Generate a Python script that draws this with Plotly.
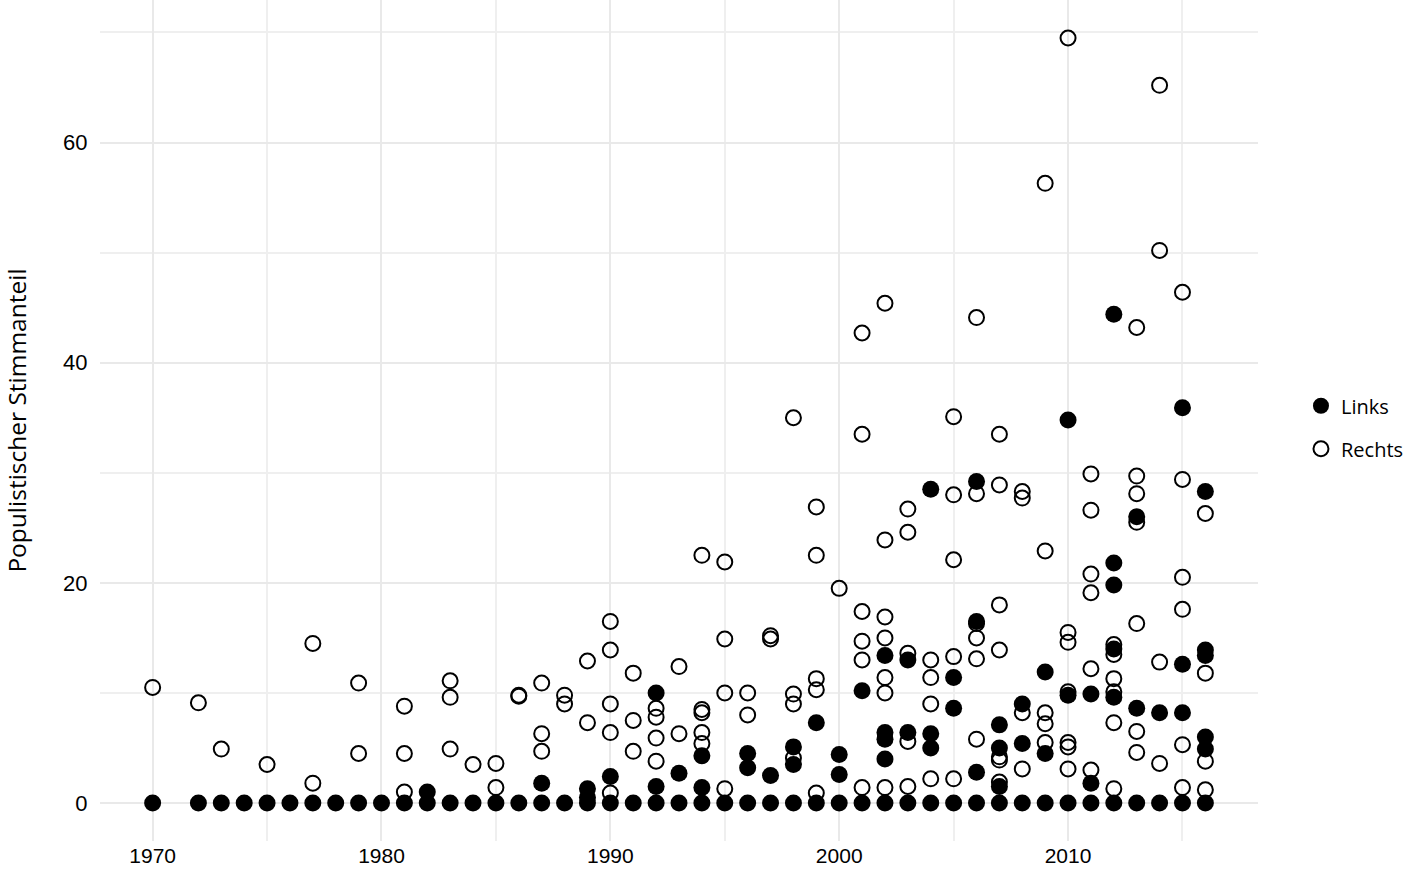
import plotly.graph_objects as go

# ---- Data ----
links_year = [
    1970, 1972, 1973, 1974, 1975, 1976, 1977, 1978, 1979, 1980,
    1981, 1982, 1983, 1984, 1985, 1986, 1987, 1988, 1989, 1990,
    1991, 1992, 1993, 1994, 1995, 1996, 1997, 1998, 1999, 2000,
    2001, 2002, 2003, 2004, 2005, 2006, 2007, 2008, 2009, 2010,
    2011, 2012, 2013, 2014, 2015, 2016,
    1982, 1987, 1989, 1989, 1990, 1992, 1992, 1993, 1994, 1994,
    1996, 1996, 1997, 1998, 1998, 1999, 2000, 2000, 2001,
    2002, 2002, 2002, 2002, 2003, 2003, 2004, 2004, 2004,
    2005, 2005, 2006, 2006, 2006, 2007, 2007, 2007, 2008, 2008,
    2009, 2009, 2010, 2010, 2011, 2011,
    2012, 2012, 2012, 2012, 2012, 2013, 2013, 2014,
    2015, 2015, 2015, 2016, 2016, 2016, 2016, 2016,
]
links_value = [
    0, 0, 0, 0, 0, 0, 0, 0, 0, 0,
    0, 0, 0, 0, 0, 0, 0, 0, 0, 0,
    0, 0, 0, 0, 0, 0, 0, 0, 0, 0,
    0, 0, 0, 0, 0, 0, 0, 0, 0, 0,
    0, 0, 0, 0, 0, 0,
    1.0, 1.8, 1.3, 0.5, 2.4, 10.0, 1.5, 2.7, 4.3, 1.4,
    4.5, 3.2, 2.5, 5.1, 3.5, 7.3, 4.4, 2.6, 10.2,
    13.4, 6.4, 5.8, 4.0, 13.0, 6.4, 28.5, 6.3, 5.0,
    11.4, 8.6, 29.2, 16.5, 2.8, 7.1, 5.0, 1.5, 9.0, 5.4,
    11.9, 4.5, 34.8, 9.8, 9.9, 1.8,
    44.4, 21.8, 19.8, 14.0, 9.6, 26.0, 8.6, 8.2,
    35.9, 12.6, 8.2, 28.3, 13.9, 13.4, 6.0, 4.9,
]

rechts_year = [
    1970, 1972, 1973, 1975, 1977, 1977, 1979, 1979, 1981, 1981, 1981,
    1983, 1983, 1983, 1984, 1985, 1985, 1986, 1986, 1987, 1987, 1987,
    1988, 1988, 1989, 1989, 1990, 1990, 1990, 1990, 1990,
    1991, 1991, 1991, 1992, 1992, 1992, 1992, 1993, 1993,
    1994, 1994, 1994, 1994, 1994, 1995, 1995, 1995, 1995,
    1996, 1996, 1997, 1997, 1998, 1998, 1998, 1998,
    1999, 1999, 1999, 1999, 1999, 2000,
    2001, 2001, 2001, 2001, 2001, 2001,
    2002, 2002, 2002, 2002, 2002, 2002, 2002,
    2003, 2003, 2003, 2003, 2003, 2004, 2004, 2004, 2004,
    2005, 2005, 2005, 2005, 2005, 2006, 2006, 2006, 2006, 2006, 2006,
    2007, 2007, 2007, 2007, 2007, 2007, 2007, 2008, 2008, 2008, 2008,
    2009, 2009, 2009, 2009, 2009, 2010, 2010, 2010, 2010, 2010, 2010, 2010,
    2011, 2011, 2011, 2011, 2011, 2011, 2012, 2012, 2012, 2012, 2012, 2012,
    2013, 2013, 2013, 2013, 2013, 2013, 2013, 2014, 2014, 2014, 2014,
    2015, 2015, 2015, 2015, 2015, 2015, 2016, 2016, 2016, 2016,
]
rechts_value = [
    10.5, 9.1, 4.9, 3.5, 14.5, 1.8, 10.9, 4.5, 8.8, 4.5, 1.0,
    11.1, 9.6, 4.9, 3.5, 3.6, 1.4, 9.7, 9.8, 10.9, 6.3, 4.7,
    9.8, 9.0, 12.9, 7.3, 16.5, 13.9, 9.0, 6.4, 0.9,
    11.8, 7.5, 4.7, 8.6, 7.8, 5.9, 3.8, 12.4, 6.3,
    22.5, 8.5, 8.2, 6.4, 5.4, 21.9, 14.9, 10.0, 1.3,
    10.0, 8.0, 15.2, 14.9, 35.0, 9.9, 9.0, 4.1,
    26.9, 22.5, 11.3, 10.3, 0.9, 19.5,
    42.7, 33.5, 17.4, 14.7, 13.0, 1.4,
    45.4, 23.9, 16.9, 15.0, 11.4, 10.0, 1.4,
    26.7, 24.6, 13.6, 5.6, 1.5, 13.0, 11.4, 9.0, 2.2,
    35.1, 28.0, 22.1, 13.3, 2.2, 44.1, 28.1, 16.3, 15.0, 13.1, 5.8,
    33.5, 28.9, 18.0, 13.9, 4.2, 3.9, 1.9, 28.3, 27.7, 8.2, 3.1,
    56.3, 22.9, 8.2, 7.2, 5.5, 69.5, 15.5, 14.6, 10.1, 5.5, 5.1, 3.1,
    29.9, 26.6, 20.8, 19.1, 12.2, 3.0, 14.4, 13.5, 11.3, 10.1, 7.3, 1.3,
    43.2, 29.7, 28.1, 25.5, 16.3, 6.5, 4.6, 65.2, 50.2, 12.8, 3.6,
    46.4, 29.4, 20.5, 17.6, 5.3, 1.4, 26.3, 11.8, 3.8, 1.2,
]

x_ticks = [1970, 1980, 1990, 2000, 2010]
x_minor = [1975, 1985, 1995, 2005, 2015]
y_ticks = [0, 20, 40, 60]
y_minor = [10, 30, 50, 70]
y_title = "Populistischer Stimmanteil"

fig = go.Figure()
fig.add_trace(go.Scatter(
    x=rechts_year, y=rechts_value, mode="markers", name="Rechts",
    legendrank=2, legendgroup="r",
    marker=dict(symbol="circle-open", size=15, color="black",
                line=dict(width=2, color="black")),
))
fig.add_trace(go.Scatter(
    x=links_year, y=links_value, mode="markers", name="Links",
    legendrank=1, legendgroup="l",
    marker=dict(symbol="circle", size=17, color="black",
                line=dict(width=0)),
))

grid_major = "#e9e9e9"
grid_minor = "#efefef"

fig.update_layout(
    width=1406, height=872,
    paper_bgcolor="white", plot_bgcolor="white",
    margin=dict(l=100, r=148, t=0, b=31),
    showlegend=True,
    legend=dict(xref="container", x=0.9253, y=0.492,
                xanchor="left", yanchor="middle",
                font=dict(family="Open Sans", size=20, color="black"),
                tracegroupgap=14,
                bgcolor="rgba(0,0,0,0)"),
    xaxis=dict(
        range=[1967.7, 2018.3],
        tickmode="array", tickvals=x_ticks, ticktext=[str(t) for t in x_ticks],
        showgrid=True, gridcolor=grid_major, gridwidth=2,
        zeroline=False, showline=False,
        ticks="",
        tickfont=dict(family="Liberation Sans", size=21, color="black"),
        minor=dict(tickmode="array", tickvals=x_minor,
                   showgrid=True, gridcolor=grid_minor, gridwidth=1.5, ticks=""),
    ),
    yaxis=dict(
        range=[-3.45, 72.95],
        tickmode="array", tickvals=y_ticks, ticktext=[str(t) for t in y_ticks],
        showgrid=True, gridcolor=grid_major, gridwidth=2,
        zeroline=False, showline=False,
        ticks="outside", ticklen=7, tickcolor="rgba(0,0,0,0)",
        tickfont=dict(family="Liberation Sans", size=22, color="black"),
        minor=dict(tickmode="array", tickvals=y_minor,
                   showgrid=True, gridcolor=grid_minor, gridwidth=1.5, ticks=""),
        title=dict(text=y_title, standoff=45,
                   font=dict(family="Open Sans", size=24.5, color="black")),
    ),
)

fig.write_html("out.html",
               config={"displayModeBar": False},
               post_script="document.body.style.margin='0';document.body.style.overflow='hidden';")
